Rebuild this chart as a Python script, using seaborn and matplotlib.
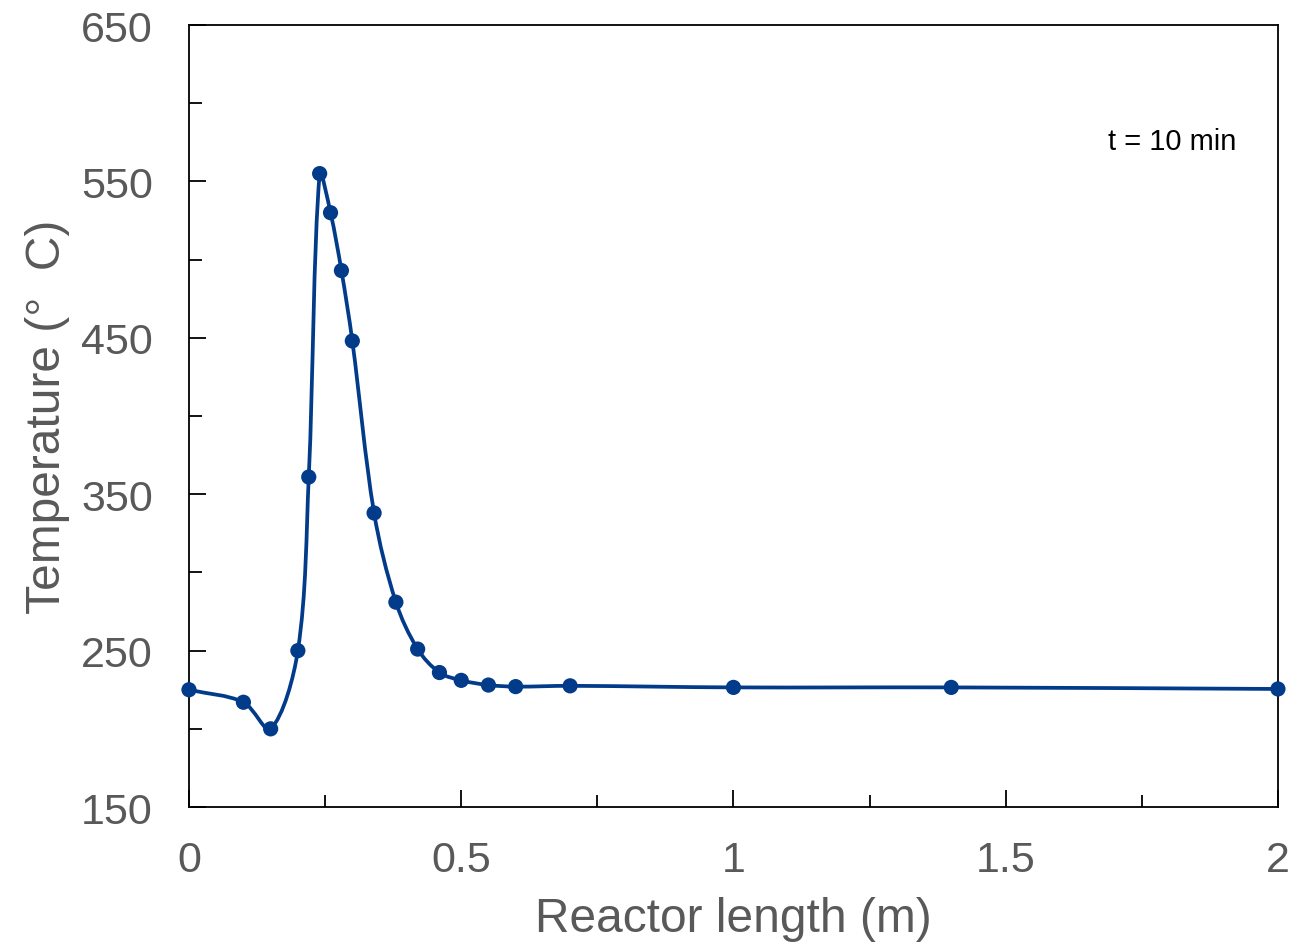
"""Temperature profile along the reactor at t = 10 min."""
import numpy as np
import pandas as pd
import matplotlib
matplotlib.use("Agg")
import matplotlib.pyplot as plt
from matplotlib.path import Path
from matplotlib.patches import PathPatch
import seaborn as sns

length_m = [0.0, 0.10, 0.15, 0.20, 0.22, 0.24, 0.26, 0.28, 0.30, 0.34,
            0.38, 0.42, 0.46, 0.50, 0.55, 0.60, 0.70, 1.00, 1.40, 2.00]
temp_c = [225, 217, 200, 250, 361, 555, 530, 493, 448, 338,
          281, 251, 236, 231, 228, 227, 227.5, 226.5, 226.5, 225.5]

df = pd.DataFrame({"length": length_m, "temp": temp_c})
LINE = "#023b8a"
GREY = "#595959"

sns.set_theme(style="white")
plt.rcParams["font.family"] = ["Liberation Sans", "DejaVu Sans"]

fig = plt.figure(figsize=(12.97, 9.53), dpi=100)
ax = fig.add_axes([0.1457, 0.1521, 0.8396, 0.8206])
ax.set_xlim(0, 2)
ax.set_ylim(150, 650)

# smoothed line like a spreadsheet "smooth line": Bezier segments with
# tangents scaled by neighbouring segment lengths (in screen space)
pts = ax.transData.transform(df[["length", "temp"]].to_numpy())
n = len(pts)
verts = [pts[0]]
codes = [Path.MOVETO]
for i in range(n - 1):
    p0 = pts[max(i - 1, 0)]
    p1 = pts[i]
    p2 = pts[i + 1]
    p3 = pts[min(i + 2, n - 1)]
    d01 = np.hypot(*(p1 - p0))
    d12 = np.hypot(*(p2 - p1))
    d23 = np.hypot(*(p3 - p2))
    t1 = (p2 - p0) * d12 / (d01 + d12) / 3 if d01 + d12 > 0 else 0
    t2 = (p3 - p1) * d12 / (d12 + d23) / 3 if d12 + d23 > 0 else 0
    verts += [p1 + t1, p2 - t2, p2]
    codes += [Path.CURVE4] * 3
verts = ax.transData.inverted().transform(np.array(verts))
ax.add_patch(PathPatch(Path(verts, codes), fill=False, edgecolor=LINE,
                       linewidth=2.7, transform=ax.transData, zorder=2,
                       clip_on=False))

sns.scatterplot(data=df, x="length", y="temp", color=LINE, s=120,
                edgecolor="none", ax=ax, zorder=3, clip_on=False)

ax.set_xlim(0, 2)
ax.set_ylim(150, 650)
ax.set_yticks([150, 250, 350, 450, 550, 650])
ax.set_yticks([200, 300, 400, 500, 600], minor=True)
ax.set_xticks([0, 0.5, 1, 1.5, 2], ["0", "0.5", "1", "1.5", "2"])
ax.set_xticks([0.25, 0.75, 1.25, 1.75], minor=True)

ax.tick_params(which="both", direction="in", color="black", width=1.3,
               labelsize=31, labelcolor=GREY, left=True, bottom=True)
ax.tick_params(which="major", length=12)
ax.tick_params(which="minor", length=9)
ax.tick_params(axis="x", which="major", pad=24)
ax.tick_params(axis="y", which="major", pad=26)

for sp in ax.spines.values():
    sp.set_color("black")
    sp.set_linewidth(1.3)

ax.set_xlabel("Reactor length (m)", fontsize=34.5, color=GREY, labelpad=11)
ax.set_ylabel("Temperature (°  C)", fontsize=34.5, color=GREY, labelpad=8)
ax.text(0.844, 0.852, "t = 10 min", transform=ax.transAxes, fontsize=21,
        color="black", ha="left", va="center")

fig.savefig("out.png", dpi=100)
